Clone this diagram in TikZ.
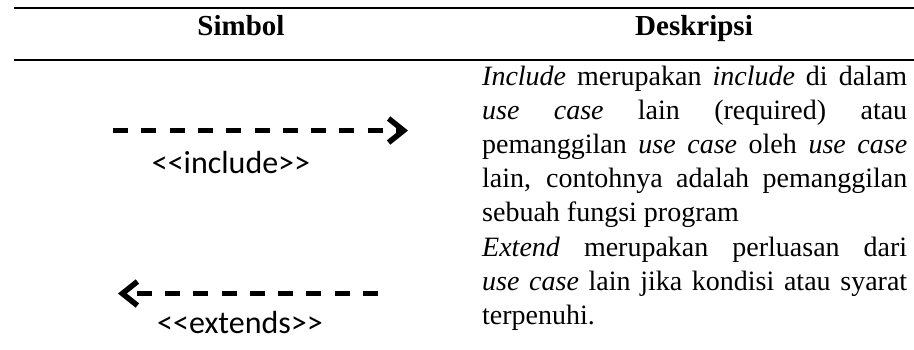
\documentclass[tikz,border=0pt]{standalone}
\usepackage{fontspec}
\setmainfont{Liberation Serif}
\newfontfamily\labelfont[Ligatures=TeXOff]{Carlito}
\usetikzlibrary{arrows.meta}

\begin{document}
\begin{tikzpicture}[x=1pt,y=-1pt,
  tablerule/.style={line width=2pt},
  header/.style={font=\fontsize{29}{34}\selectfont\bfseries, anchor=base, inner sep=0pt},
  stereo/.style={font=\labelfont\fontsize{32}{38}\selectfont, anchor=base, inner sep=0pt},
  bodytext/.style={anchor=base west, inner sep=0pt},
  relarrow/.style={line width=4.5pt, dash pattern=on 15pt off 13.3pt,
    -{Straight Barb[length=15pt,width=24pt,line width=5.5pt]}}
]
\useasboundingbox (0,0) rectangle (914,349);

% table rules
\coordinate (rule-top-l) at (14,7.7);
\coordinate (rule-top-r) at (914,7.7);
\coordinate (rule-mid-l) at (14,60);
\coordinate (rule-mid-r) at (914,60);
\draw[tablerule] (rule-top-l) -- (rule-top-r);
\draw[tablerule] (rule-mid-l) -- (rule-mid-r);

% column headings
\node[header] (h-simbol) at (241,35) {Simbol};
\node[header] (h-desk) at (694,35) {Deskripsi};

% include relation
\coordinate (inc-from) at (113,130.5);
\coordinate (inc-to) at (408,130.5);
\draw[relarrow] (inc-from) -- (inc-to);
\node[stereo] (inc-label) at (231,173) {<<include>>};

% extend relation
\coordinate (ext-from) at (378,293.5);
\coordinate (ext-to) at (118,293.5);
\draw[relarrow] (ext-from) -- (ext-to);
\node[stereo] (ext-label) at (240,333) {<<extends>>};

% description text
\node[bodytext] (desc) at (482,85) {\parbox[t]{425pt}{%
  \fontsize{28}{34.2}\selectfont\tolerance=10000\hyphenpenalty=10000
  \emph{Include} merupakan \emph{include} di dalam\linebreak
  \emph{use} \emph{case} lain (required) atau\linebreak
  pemanggilan \emph{use case} oleh \emph{use case}\linebreak
  lain, contohnya adalah pemanggilan\linebreak
  sebuah fungsi program\par
  \emph{Extend} merupakan perluasan dari\linebreak
  \emph{use case} lain jika kondisi atau syarat\linebreak
  terpenuhi.}};
\end{tikzpicture}
\end{document}
